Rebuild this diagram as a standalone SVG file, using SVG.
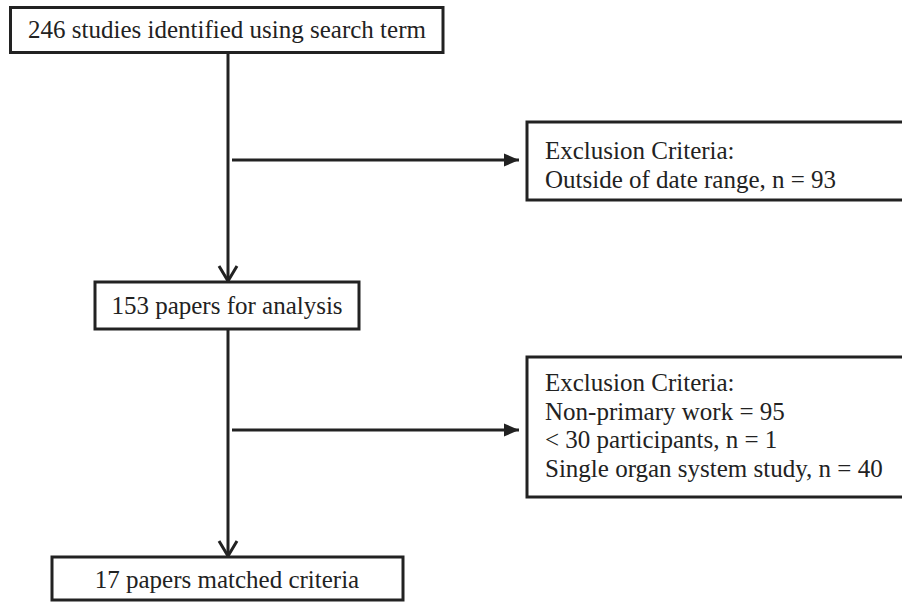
<svg xmlns="http://www.w3.org/2000/svg" width="902" height="602" viewBox="0 0 902 602">
<style>
.box{fill:#fff;stroke:#222;stroke-width:3}
.t{font-family:'Liberation Serif','Tinos','Times New Roman','DejaVu Serif',serif;font-size:25px;fill:#222}
.c{text-anchor:middle}
.ln{stroke:#222;stroke-width:3;fill:none}
</style>
<defs>
<marker id="chev" markerUnits="userSpaceOnUse" markerWidth="20" markerHeight="24" refX="17" refY="11" orient="auto" viewBox="0 0 20 22">
<polyline points="2,2 17,11 2,20" fill="none" stroke="#222" stroke-width="3"/>
</marker>
<marker id="tri" markerUnits="userSpaceOnUse" markerWidth="16" markerHeight="14" refX="15" refY="7" orient="auto" viewBox="0 0 16 14">
<polygon points="0,0.5 15,7 0,13.5" fill="#222"/>
</marker>
</defs>
<g id="connectors">
<line class="ln" x1="228" y1="53" x2="228" y2="281" marker-end="url(#chev)"/>
<line class="ln" x1="228" y1="329" x2="228" y2="556" marker-end="url(#chev)"/>
<line class="ln" x1="232" y1="160" x2="519" y2="160" marker-end="url(#tri)"/>
<line class="ln" x1="232" y1="430" x2="519" y2="430" marker-end="url(#tri)"/>
</g>
<g id="n1">
<rect class="box" x="10.5" y="7.5" width="432.5" height="45"/>
<text class="t c" x="227" y="38">246 studies identified using search term</text>
</g>
<g id="ex1">
<rect class="box" x="527" y="122" width="380" height="78"/>
<text class="t" x="545" y="159">Exclusion Criteria:</text>
<text class="t" x="545" y="188">Outside of date range, n = 93</text>
</g>
<g id="n2">
<rect class="box" x="95" y="282" width="264" height="47"/>
<text class="t c" x="227" y="314">153 papers for analysis</text>
</g>
<g id="ex2">
<rect class="box" x="527" y="357" width="380" height="140"/>
<text class="t" x="545" y="391">Exclusion Criteria:</text>
<text class="t" x="545" y="419.5">Non-primary work = 95</text>
<text class="t" x="545" y="448">&lt; 30 participants, n = 1</text>
<text class="t" x="545" y="476.5">Single organ system study, n = 40</text>
</g>
<g id="n3">
<rect class="box" x="52" y="557" width="351" height="43"/>
<text class="t c" x="227" y="588">17 papers matched criteria</text>
</g>
</svg>
